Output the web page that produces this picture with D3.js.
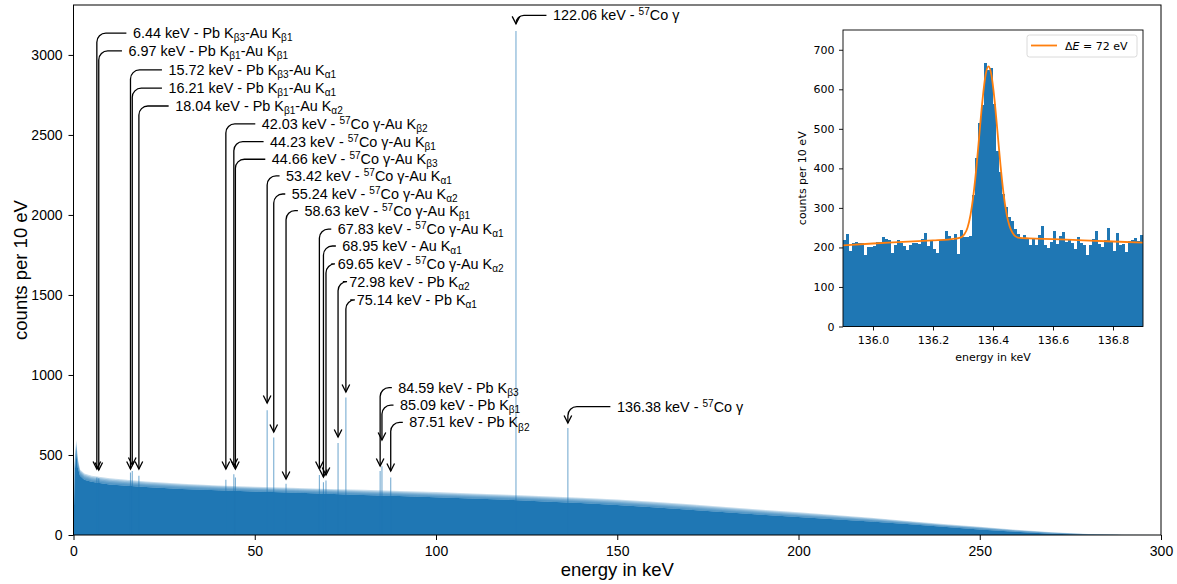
<!DOCTYPE html>
<html>
<head>
<meta charset="utf-8">
<script src="https://cdn.jsdelivr.net/npm/d3@7"></script>
<style>
  body { margin: 0; background: #fff; }
  svg { display: block; }
</style>
</head>
<body>
<svg id="chart" width="1177" height="584"></svg>
<script>
// ---------- spectrum data (counts per 10 eV bin) ----------
// Continuum: lower and upper edge of the bin-to-bin scatter, sampled along the energy axis (keV)
const continuumEnergy = [0, 0.3, 0.75, 1.2, 1.8, 3, 5, 10, 20, 30, 40, 50, 60, 70, 80, 90, 100, 110, 120, 130, 140, 150, 160, 170, 180, 190, 200, 210, 220, 230, 240, 250, 260, 270, 280, 290, 300];
const continuumLow    = [0, 380, 520, 420, 370, 345, 332, 316, 300, 288, 280, 272, 265, 258, 250, 243, 236, 228, 220, 210, 200, 188, 174, 158, 142, 126, 112, 98, 84, 68, 51, 35, 20, 8, 2, 0, 0];
const continuumHigh   = [0, 470, 594, 480, 410, 385, 370, 355, 335, 320, 310, 302, 295, 288, 282, 275, 268, 260, 252, 242, 233, 222, 208, 192, 175, 158, 142, 125, 108, 88, 68, 52, 33, 17, 6, 1, 0];

// Identified lines: energy (keV), peak height (counts), arrow tip (counts), line name
const lineEnergy = [6.44, 6.97, 15.72, 16.21, 18.04, 42.03, 44.23, 44.66, 53.42, 55.24, 58.63, 67.83, 68.95, 69.65, 72.98, 75.14, 84.59, 85.09, 87.51, 122.06, 136.38];
const lineHeight = [360, 355, 390, 400, 370, 345, 380, 360, 780, 610, 320, 375, 330, 340, 575, 860, 400, 430, 360, 3150, 668];
const lineArrowAt = [412, 406, 412, 437, 412, 412, 431, 412, 825, 644, 350, 412, 362, 375, 612, 894, 431, 594, 400, 3194, 700];
const lineName = [
  "Pb K_{β3}-Au K_{β1}",
  "Pb K_{β1}-Au K_{β1}",
  "Pb K_{β3}-Au K_{α1}",
  "Pb K_{β1}-Au K_{α1}",
  "Pb K_{β1}-Au K_{α2}",
  "^{57}Co γ-Au K_{β2}",
  "^{57}Co γ-Au K_{β1}",
  "^{57}Co γ-Au K_{β3}",
  "^{57}Co γ-Au K_{α1}",
  "^{57}Co γ-Au K_{α2}",
  "^{57}Co γ-Au K_{β1}",
  "^{57}Co γ-Au K_{α1}",
  "Au K_{α1}",
  "^{57}Co γ-Au K_{α2}",
  "Pb K_{α2}",
  "Pb K_{α1}",
  "Pb K_{β3}",
  "Pb K_{β1}",
  "Pb K_{β2}",
  "^{57}Co γ",
  "^{57}Co γ"
];
// Where each label's text starts: [energy in keV, counts]
const labelAnchor = [
  [16.38, 3136], [15.16, 3025], [26.19, 2906], [26.19, 2792], [28.04, 2681],
  [51.94, 2569], [54.23, 2458], [54.70, 2348], [58.64, 2244], [60.21, 2131],
  [63.69, 2027], [72.90, 1912], [74.17, 1806], [72.90, 1694], [76.10, 1583],
  [78.14, 1469], [89.61, 921], [90.07, 812], [92.64, 704], [132.26, 3247], [149.9, 802]
];

const xTicks = [0, 50, 100, 150, 200, 250, 300];
const yTicks = [0, 500, 1000, 1500, 2000, 2500, 3000];

// ---------- inset: 136.38 keV line, 10 eV bins from 135.9 keV ----------
const insetBinStart = 135.9;
const insetBinWidth = 0.01;
const insetCounts = [
  219, 235, 192, 210, 215, 212, 210, 181, 202, 200,
  204, 215, 215, 227, 221, 219, 186, 207, 219, 211,
  203, 193, 206, 211, 211, 208, 221, 237, 204, 219,
  196, 186, 219, 219, 242, 230, 219, 233, 183, 243,
  227, 227, 230, 333, 426, 515, 560, 667, 650, 655,
  563, 445, 392, 335, 303, 278, 268, 247, 234, 224,
  232, 222, 207, 222, 205, 232, 253, 205, 198, 213,
  241, 209, 228, 240, 213, 222, 211, 195, 226, 211,
  205, 180, 207, 222, 241, 209, 201, 219, 250, 213,
  191, 237, 205, 209, 188, 216, 218, 224, 216, 232
];
// Fitted line shape (keV, counts)
const fitEnergy = [135.9, 136.0, 136.1, 136.2, 136.25, 136.275, 136.295, 136.305, 136.315, 136.325, 136.335, 136.345, 136.355, 136.365, 136.375, 136.385, 136.395, 136.405, 136.415, 136.425, 136.435, 136.445, 136.455, 136.465, 136.475, 136.49, 136.52, 136.6, 136.7, 136.8, 136.9];
const fitCounts = [205, 210, 214, 218, 220, 222, 226, 234, 250, 282, 334, 405, 490, 573, 635, 658, 635, 574, 492, 408, 337, 286, 254, 237, 228, 224, 223, 221, 218, 215, 212];
const fitResolutionEV = 72;
const insetXTicks = [136.0, 136.2, 136.4, 136.6, 136.8];
const insetYTicks = [0, 100, 200, 300, 400, 500, 600, 700];

// ---------- drawing ----------
const blue = "#1f77b4";
const orange = "#ff7f0e";
const mainFont = "'Liberation Sans', Arial, Helvetica, sans-serif";
const insetFont = "'DejaVu Sans', Verdana, sans-serif";

const svg = d3.select("#chart");
const M = { left: 73.5, right: 1161, top: 5, bottom: 535 };

const x = d3.scaleLinear().domain([0, 300]).range([M.left, M.right]);
const y = d3.scaleLinear().domain([0, 3312]).range([M.bottom, M.top]);

svg.append("defs").append("clipPath").attr("id", "plotClip")
  .append("rect").attr("x", M.left).attr("y", M.top)
  .attr("width", M.right - M.left).attr("height", M.bottom - M.top);

const plot = svg.append("g").attr("clip-path", "url(#plotClip)");

// continuum: solid body plus a graded band for the scatter of individual bins
const cont = continuumEnergy.map((e, i) => ({ e, lo: continuumLow[i], hi: continuumHigh[i] }));
const bands = 5;
for (let k = bands; k >= 1; k--) {
  const band = d3.area()
    .x(d => x(d.e))
    .y0(d => y(d.lo))
    .y1(d => y(d.lo + (d.hi - d.lo) * k / bands));
  plot.append("path").datum(cont).attr("d", band)
    .attr("fill", blue).attr("fill-opacity", 0.26);
}
plot.append("path").datum(cont)
  .attr("d", d3.area().x(d => x(d.e)).y0(y(0)).y1(d => y(d.lo)))
  .attr("fill", blue);

// narrow lines
const lines = lineEnergy.map((e, i) => ({ e, h: lineHeight[i], tip: lineArrowAt[i], name: lineName[i], at: labelAnchor[i] }));
plot.selectAll("line.peak").data(lines).join("line")
  .attr("class", "peak")
  .attr("x1", d => x(d.e)).attr("x2", d => x(d.e))
  .attr("y1", y(0)).attr("y2", d => y(d.h))
  .attr("stroke", blue).attr("stroke-width", 1.1).attr("stroke-opacity", 0.6);

// rich text: _{..} subscript, ^{..} superscript
function richText(textSel, str, subShift, supShift) {
  const parts = str.split(/(_\{[^}]*\}|\^\{[^}]*\})/).filter(s => s.length);
  let offset = 0;
  parts.forEach(p => {
    let content = p, shift = 0, small = false;
    if (p.startsWith("_{")) { content = p.slice(2, -1); shift = subShift; small = true; }
    else if (p.startsWith("^{")) { content = p.slice(2, -1); shift = -supShift; small = true; }
    const t = textSel.append("tspan").text(content).attr("dy", shift - offset);
    if (small) t.attr("font-size", "70%");
    offset = shift;
  });
}

// annotations: label, rounded connector, open arrow head
const ann = svg.append("g");
const corner = 9, gap = 6.5;
lines.forEach(d => {
  const ax = x(d.e);
  const tx = x(d.at[0]);
  const ty = y(d.at[1]);
  const tipY = y(d.tip);
  const r = Math.min(corner, tipY - ty - 0.5);
  const p = d3.path();
  p.moveTo(tx - gap, ty);
  p.lineTo(ax + r, ty);
  p.arcTo(ax, ty, ax, ty + r, r);
  p.lineTo(ax, tipY);
  ann.append("path").attr("d", p.toString())
    .attr("fill", "none").attr("stroke", "#000").attr("stroke-width", 1.3);
  ann.append("path")
    .attr("d", `M${ax - 3.8},${tipY - 7.5}L${ax},${tipY}L${ax + 3.8},${tipY - 7.5}`)
    .attr("fill", "none").attr("stroke", "#000").attr("stroke-width", 1.3);
  const t = ann.append("text")
    .attr("x", tx).attr("y", ty + 5)
    .attr("font-family", mainFont).attr("font-size", 14.4)
    .attr("fill", "#000");
  richText(t, `${d.e.toFixed(2)} keV - ${d.name}`, 3.2, 5);
});

// axes
const xAxis = d3.axisBottom(x).tickValues(xTicks).tickFormat(d3.format("d"))
  .tickSize(5).tickSizeOuter(0).tickPadding(6);
const yAxis = d3.axisLeft(y).tickValues(yTicks).tickFormat(d3.format("d"))
  .tickSize(5).tickSizeOuter(0).tickPadding(6);
const gx = svg.append("g").attr("transform", `translate(0,${M.bottom})`).call(xAxis);
const gy = svg.append("g").attr("transform", `translate(${M.left},0)`).call(yAxis);
[gx, gy].forEach(g => {
  g.select(".domain").remove();
  g.selectAll("line").attr("stroke", "#000").attr("stroke-width", 1);
  g.selectAll("text").attr("font-family", mainFont).attr("font-size", 14).attr("fill", "#000");
});

svg.append("rect")
  .attr("x", M.left).attr("y", M.top)
  .attr("width", M.right - M.left).attr("height", M.bottom - M.top)
  .attr("fill", "none").attr("stroke", "#000").attr("stroke-width", 1);

svg.append("text")
  .attr("x", (M.left + M.right) / 2).attr("y", 576)
  .attr("text-anchor", "middle")
  .attr("font-family", mainFont).attr("font-size", 18.5)
  .text("energy in keV");
svg.append("text")
  .attr("transform", `translate(27,${(M.top + M.bottom) / 2}) rotate(-90)`)
  .attr("text-anchor", "middle")
  .attr("font-family", mainFont).attr("font-size", 18.5)
  .text("counts per 10 eV");

// ---------- inset ----------
const I = { left: 843, right: 1143, top: 30, bottom: 326.5 };
const xi = d3.scaleLinear().domain([135.9, 136.9]).range([I.left, I.right]);
const yi = d3.scaleLinear().domain([0, 750]).range([I.bottom, I.top]);

const inset = svg.append("g");
inset.append("rect")
  .attr("x", I.left).attr("y", I.top)
  .attr("width", I.right - I.left).attr("height", I.bottom - I.top)
  .attr("fill", "#fff");

const bins = insetCounts.map((c, i) => ({ x0: insetBinStart + i * insetBinWidth, c }));
inset.selectAll("rect.bin").data(bins).join("rect")
  .attr("class", "bin")
  .attr("x", d => xi(d.x0))
  .attr("width", d => xi(d.x0 + insetBinWidth) - xi(d.x0))
  .attr("y", d => yi(d.c))
  .attr("height", d => yi(0) - yi(d.c))
  .attr("fill", blue)
  .attr("shape-rendering", "crispEdges");

const fit = fitEnergy.map((e, i) => ({ e, c: fitCounts[i] }));
inset.append("path").datum(fit)
  .attr("d", d3.line().x(d => xi(d.e)).y(d => yi(d.c)).curve(d3.curveMonotoneX))
  .attr("fill", "none").attr("stroke", orange).attr("stroke-width", 1.8);

const xiAxis = d3.axisBottom(xi).tickValues(insetXTicks).tickFormat(d3.format(".1f"))
  .tickSize(4).tickSizeOuter(0).tickPadding(6);
const yiAxis = d3.axisLeft(yi).tickValues(insetYTicks).tickSize(4).tickSizeOuter(0).tickPadding(4.5);
const gxi = inset.append("g").attr("transform", `translate(0,${I.bottom})`).call(xiAxis);
const gyi = inset.append("g").attr("transform", `translate(${I.left},0)`).call(yiAxis);
[gxi, gyi].forEach(g => {
  g.select(".domain").remove();
  g.selectAll("line").attr("stroke", "#000").attr("stroke-width", 0.9);
  g.selectAll("text").attr("font-family", insetFont).attr("font-size", 11).attr("fill", "#000");
});

inset.append("rect")
  .attr("x", I.left).attr("y", I.top)
  .attr("width", I.right - I.left).attr("height", I.bottom - I.top)
  .attr("fill", "none").attr("stroke", "#000").attr("stroke-width", 0.9);

inset.append("text")
  .attr("x", (I.left + I.right) / 2).attr("y", 361)
  .attr("text-anchor", "middle")
  .attr("font-family", insetFont).attr("font-size", 11)
  .text("energy in keV");
inset.append("text")
  .attr("transform", `translate(806,${(I.top + I.bottom) / 2}) rotate(-90)`)
  .attr("text-anchor", "middle")
  .attr("font-family", insetFont).attr("font-size", 11)
  .text("counts per 10 eV");

// legend
const lg = inset.append("g");
lg.append("rect")
  .attr("x", 1027).attr("y", 35).attr("width", 110).attr("height", 22).attr("rx", 2.5)
  .attr("fill", "#fff").attr("fill-opacity", 0.8)
  .attr("stroke", "#d0d0d0").attr("stroke-width", 0.8);
lg.append("line")
  .attr("x1", 1031).attr("x2", 1057).attr("y1", 45.5).attr("y2", 45.5)
  .attr("stroke", orange).attr("stroke-width", 1.8);
const lt = lg.append("text")
  .attr("x", 1065).attr("y", 49.5)
  .attr("font-family", insetFont).attr("font-size", 11);
lt.append("tspan").text("Δ");
lt.append("tspan").attr("font-style", "italic").text("E");
lt.append("tspan").text(` = ${fitResolutionEV} eV`);
</script>
</body>
</html>
